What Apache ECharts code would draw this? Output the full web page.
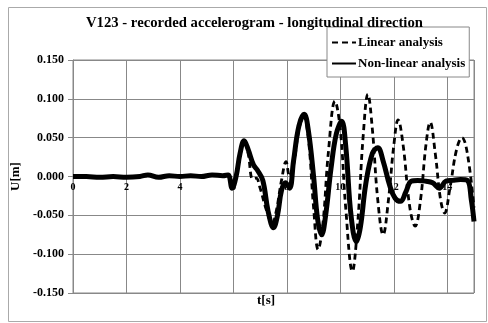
<!DOCTYPE html>
<html><head><meta charset="utf-8">
<script src="https://cdn.jsdelivr.net/npm/echarts@6/dist/echarts.min.js"></script>
<style>html,body{margin:0;padding:0;background:#fff}#c{width:488px;height:323px}</style>
</head><body><div id="c"></div>
<script>
const titleText = 'V123 - recorded accelerogram - longitudinal direction';
const seriesNames = ['Linear analysis', 'Non-linear analysis'];
const yTicks = [-0.15, -0.1, -0.05, 0, 0.05, 0.1, 0.15];
const xTickLabels = ['0', '2', '4', '6', '8', '10', '12', '14'];

const nonlinearT = [0,0.5,1.0,1.5,2.0,2.5,2.8,3.2,3.6,4.0,4.4,4.8,5.2,5.6,5.8,5.95,6.1,6.25,6.4,6.55,6.75,6.9,7.1,7.3,7.5,7.65,7.8,7.95,8.1,8.25,8.45,8.65,8.8,9.0,9.15,9.3,9.45,9.65,9.85,10.05,10.2,10.4,10.6,10.75,10.95,11.2,11.4,11.6,11.85,12.05,12.25,12.45,12.65,12.9,13.2,13.45,13.7,13.95,14.2,14.5,14.75,14.9,15.0];
const nonlinearU = [0,0,-0.001,0,-0.001,0,0.002,-0.001,0.001,0,0.001,0,0.002,0.001,0.002,-0.015,0,0.03,0.046,0.035,0.015,0.008,-0.005,-0.045,-0.066,-0.05,-0.018,-0.008,-0.015,0.02,0.065,0.08,0.06,0,-0.055,-0.075,-0.05,0.01,0.055,0.071,0.04,-0.05,-0.084,-0.065,-0.01,0.03,0.037,0.02,-0.012,-0.028,-0.032,-0.02,-0.006,-0.005,-0.006,-0.008,-0.015,-0.006,-0.005,-0.004,-0.005,-0.03,-0.058];

const linearT = [0,0.5,1.0,1.5,2.0,2.5,2.8,3.2,3.6,4.0,4.4,4.8,5.2,5.6,5.8,5.95,6.1,6.25,6.4,6.55,6.72,6.85,7.0,7.25,7.45,7.6,7.8,7.97,8.1,8.25,8.45,8.62,8.8,9.0,9.17,9.35,9.55,9.8,10.0,10.2,10.45,10.65,10.85,11.03,11.2,11.4,11.6,11.8,12.0,12.16,12.35,12.6,12.8,13.0,13.2,13.36,13.55,13.75,13.9,14.1,14.35,14.55,14.75,15.0];
const linearU = [0,0,-0.001,0,-0.001,0,0.002,-0.001,0.001,0,0.001,0,0.002,0.001,0.002,-0.015,0,0.03,0.045,0.03,-0.003,-0.002,-0.015,-0.045,-0.06,-0.045,-0.005,0.019,0,0.015,0.06,0.078,0.05,-0.04,-0.094,-0.06,0.03,0.097,0.06,-0.04,-0.122,-0.06,0.05,0.106,0.06,-0.03,-0.075,-0.03,0.04,0.073,0.04,-0.04,-0.064,-0.03,0.04,0.07,0.03,-0.03,-0.047,-0.015,0.035,0.05,0.03,-0.04];

const font = "'Liberation Serif','Times New Roman',serif";
const zip = (a, b) => a.map((t, i) => [t, b[i]]);
const gridTop = 60, gridBottom = 30, H = 323;
const plotH = H - gridTop - gridBottom;

const chart = echarts.init(document.getElementById('c'), null, {renderer: 'canvas'});
chart.setOption({
  animation: false,
  backgroundColor: '#fff',
  title: {
    text: titleText, left: 81, top: 11,
    textStyle: {fontFamily: font, fontSize: 14.7, fontWeight: 'bold', color: '#000'}
  },
  legend: {
    orient: 'vertical', left: 327, top: 27,
    data: seriesNames,
    backgroundColor: '#fff', borderColor: '#888', borderWidth: 1,
    padding: [9, 4, 7, 4], itemGap: 8, itemWidth: 24, itemHeight: 12,
    itemStyle: {opacity: 0},
    textStyle: {fontFamily: font, fontSize: 13, fontWeight: 'bold', color: '#000', padding: [0,0,0,-3]}
  },
  grid: {left: 73, right: 14, top: gridTop, bottom: gridBottom, show: true, borderColor: '#888', borderWidth: 1},
  xAxis: {
    type: 'value', min: 0, max: 15, interval: 2,
    offset: -plotH / 2,
    axisLine: {onZero: false, lineStyle: {color: '#888'}},
    axisTick: {show: false},
    axisLabel: {showMaxLabel: false, margin: 6, fontFamily: font, fontSize: 10, fontWeight: 'bold', color: '#000',
      formatter: v => xTickLabels[v / 2] !== undefined ? xTickLabels[v / 2] : ''},
    splitLine: {show: true, lineStyle: {color: '#888', width: 1}}
  },
  yAxis: {
    type: 'value', min: yTicks[0], max: yTicks[yTicks.length - 1], interval: 0.05,
    name: 'U[m]', nameLocation: 'middle', nameGap: 47,
    nameTextStyle: {fontFamily: font, fontSize: 13, fontWeight: 'bold', color: '#000'},
    axisLine: {show: true, onZero: false, lineStyle: {color: '#888'}},
    axisTick: {show: true, length: 5, lineStyle: {color: '#888'}},
    axisLabel: {margin: 9, fontFamily: font, fontSize: 12, fontWeight: 'bold', color: '#000',
      formatter: v => v.toFixed(3)},
    splitLine: {show: true, lineStyle: {color: '#888', width: 1}}
  },
  graphic: [
    {type: 'rect', left: 6, top: 5, shape: {width: 478, height: 314}, style: {fill: 'none', stroke: '#aaa', lineWidth: 1}, z: -1},
    {type: 'text', left: 257, top: 294, style: {text: 't[s]', font: "bold 13px 'Liberation Serif', serif", fill: '#000'}}
  ],
  series: [
    {name: seriesNames[0], type: 'line', data: zip(linearT, linearU), smooth: 0.4, symbol: 'none',
      lineStyle: {color: '#000', width: 2.8, type: [6, 4]}, itemStyle: {color: '#000'}, z: 3},
    {name: seriesNames[1], type: 'line', data: zip(nonlinearT, nonlinearU), smooth: 0.4, symbol: 'none',
      lineStyle: {color: '#000', width: 5}, itemStyle: {color: '#000'}, z: 2}
  ]
});
</script></body></html>
